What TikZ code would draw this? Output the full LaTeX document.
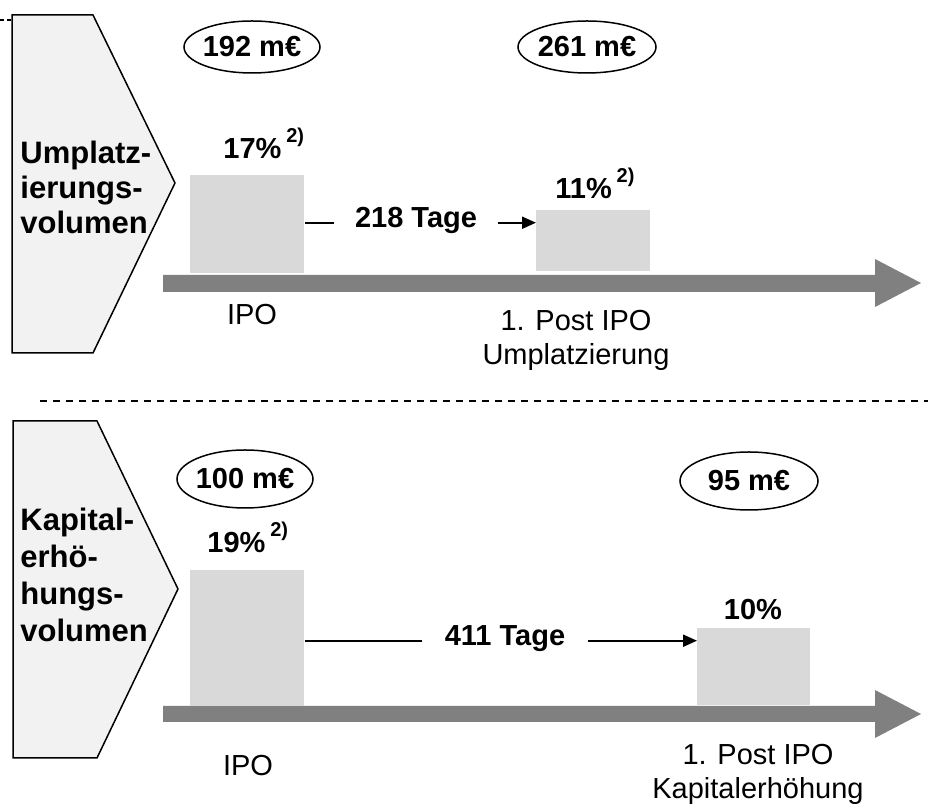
\documentclass[tikz,border=0pt]{standalone}
\usepackage{fontspec}
\setmainfont{Liberation Sans}
\usetikzlibrary{arrows.meta,positioning,calc,shapes.geometric}
\definecolor{ch-fill}{HTML}{F2F2F2}
\definecolor{ch-bar}{HTML}{D9D9D9}
\definecolor{ch-axis}{HTML}{808080}
\newcommand{\supnote}[1]{\,\raisebox{8pt}{\fontsize{10}{10}\selectfont\bfseries #1}}

\begin{document}
\begin{tikzpicture}[x=0.5pt,y=-0.5pt,
  lbl/.style={font=\fontsize{14.5}{17.5}\selectfont\bfseries,inner sep=0pt},
  head/.style={font=\fontsize{15.5}{17.5}\selectfont\bfseries,inner sep=0pt,anchor=north west,align=left},
  evtext/.style={font=\fontsize{14.5}{17}\selectfont,inner sep=0pt},
  vol/.style={ellipse,inner sep=0pt,font=\fontsize{14.5}{17.5}\selectfont\bfseries},
  ring/.style={line width=0.75pt},
  bar/.style={fill=ch-bar,inner sep=0pt,anchor=south west},
  chev/.style={fill=ch-fill,draw=black,line width=0.75pt},
  spanarrow/.style={line width=1pt,-{Triangle[length=7pt,width=6pt]}}]
\useasboundingbox (0,0) rectangle (928,806);

% ============ upper part: Umplatzierungsvolumen ============
\draw[line width=0.6pt,dash pattern=on 2pt off 1.5pt] (0,20) -- (13,20);
\filldraw[chev] (12,15) -- (93,15) -- (175,183) -- (93,353) -- (12,353) -- cycle;
\node[head] (headA) at (20,141) {Umplatz-\\ierungs-\\volumen};

\fill[ch-axis] (163,275) -- (875,275) -- (875,259) -- (921,283) -- (875,307) -- (875,292) -- (163,292) -- cycle;

\node[vol] (volA1) at (252,47) {192 m€};
\node[vol] (volA2) at (587,47) {261 m€};
\draw[ring] (volA1.center) ellipse [x radius=68, y radius=26];
\draw[ring] (volA2.center) ellipse [x radius=69, y radius=26];

\node[bar,minimum width=57pt,minimum height=49pt] (ipoA) at (190,273) {};
\node[bar,minimum width=57pt,minimum height=30.5pt] (postA) at (536,271) {};
\node[lbl,anchor=base west] (shareA1) at (223,159) {17\%\supnote{2)}};
\node[lbl,anchor=base west] (shareA2) at (555,199) {11\%\supnote{2)}};

% time between the two placements
\node[lbl,anchor=base,inner xsep=10.5pt] (daysA) at (416,228) {218 Tage};
\draw[line width=1pt] (ipoA.east |- daysA.mid) -- (daysA.mid west);
\draw[spanarrow] (daysA.mid east) -- (postA.west |- daysA.mid);

\node[evtext,anchor=north] (evA1) at (252,304) {IPO};
\node[evtext,anchor=north,align=center] (evA2) at (576,310) {1. Post IPO\\Umplatzierung};

% separator
\draw[line width=0.75pt,dash pattern=on 3.5pt off 3pt] (40,401) -- (928,401);

% ============ lower part: Kapitalerhoehungsvolumen ============
\filldraw[chev] (13,421) -- (97,421) -- (178,589) -- (97,758) -- (13,758) -- cycle;
\node[head,font=\fontsize{15.5}{18.5}\selectfont\bfseries] (headB) at (20,508)
     {Kapital-\\erhö-\\hungs-\\volumen};

\fill[ch-axis] (163,706) -- (875,706) -- (875,690) -- (921,714) -- (875,738) -- (875,722) -- (163,722) -- cycle;

\node[vol] (volB1) at (245,479) {100 m€};
\node[vol] (volB2) at (749,481) {95 m€};
\draw[ring] (volB1.center) ellipse [x radius=68, y radius=29];
\draw[ring] (volB2.center) ellipse [x radius=69, y radius=29];

\node[bar,minimum width=57pt,minimum height=68pt] (ipoB) at (190,706) {};
\node[bar,minimum width=56.5pt,minimum height=38.5pt] (postB) at (697,705) {};
\node[lbl,anchor=base west] (shareB1) at (207,553) {19\%\supnote{2)}};
\node[lbl,anchor=base] (shareB2) at (753,620) {10\%};

% time between IPO and capital increase
\node[lbl,anchor=base,inner xsep=11pt] (daysB) at (505,646) {411 Tage};
\draw[line width=1pt] (ipoB.east |- daysB.mid) -- (daysB.mid west);
\draw[spanarrow] (daysB.mid east) -- (postB.west |- daysB.mid);

\node[evtext,anchor=north] (evB1) at (248,755) {IPO};
\node[evtext,anchor=north,align=center] (evB2) at (758,744) {1. Post IPO\\Kapitalerhöhung};

\end{tikzpicture}
\end{document}
